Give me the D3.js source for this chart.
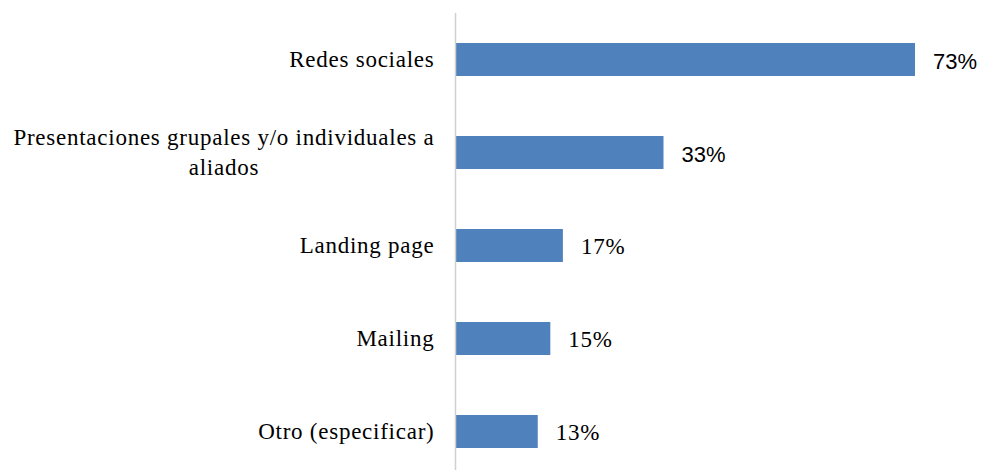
<!DOCTYPE html>
<html>
<head>
<meta charset="utf-8">
<script src="https://cdn.jsdelivr.net/npm/d3@7/dist/d3.min.js"></script>
<style>
  html, body { margin: 0; padding: 0; background: #fff; }
  svg { display: block; }
  text { fill: #000; }
  .serif { font-family: "Liberation Serif", "Times New Roman", serif; font-size: 23px; letter-spacing: 0.75px; }
  .sans { font-family: "Liberation Sans", Arial, sans-serif; font-size: 22px; }
</style>
</head>
<body>
<svg id="chart" width="981" height="470"></svg>
<script>
// Canales de difusión utilizados (% de respuestas)
const categories = [
  "Redes sociales",
  "Presentaciones grupales y/o individuales a aliados",
  "Landing page",
  "Mailing",
  "Otro (especificar)"
];
const values = [73, 33, 17, 15, 13];
const valueLabels = ["73%", "33%", "17%", "15%", "13%"];

const svg = d3.select("#chart");
const height = 470;
const axisX = 455.5;
const labelRight = 434.5;
const labelMaxWidth = 430;

const x = d3.scaleLinear().domain([0, 73]).range([axisX + 0.5, 915]);
const y = d3.scaleBand()
  .domain(categories)
  .range([13, 478])
  .paddingInner(0.645)
  .paddingOuter(0.3225);
const mid = d => y(d) + y.bandwidth() / 2;

// bars
svg.append("g").selectAll("rect")
  .data(categories)
  .join("rect")
  .attr("x", x(0))
  .attr("y", d => y(d))
  .attr("width", (d, i) => x(values[i]) - x(0))
  .attr("height", y.bandwidth())
  .attr("fill", "#4f81bd");

// vertical category axis line
svg.append("line")
  .attr("x1", axisX).attr("x2", axisX)
  .attr("y1", 13).attr("y2", height)
  .attr("stroke", "#d0d0d0")
  .attr("stroke-width", 1.5);

// category labels, wrapped to fit the label column
const labelG = svg.append("g");
const measure = s => {
  const p = labelG.append("text").attr("class", "serif").text(s);
  const w = p.node().getComputedTextLength();
  p.remove();
  return w;
};
categories.forEach(cat => {
  const cy = mid(cat);
  const words = cat.split(" ");
  const lines = [];
  let cur = "";
  words.forEach(w => {
    const test = cur ? cur + " " + w : w;
    if (measure(test) > labelMaxWidth && cur) {
      lines.push(cur);
      cur = w;
    } else {
      cur = test;
    }
  });
  lines.push(cur);

  const t = labelG.append("text").attr("class", "serif");
  const lineH = 30;
  if (lines.length === 1) {
    t.attr("text-anchor", "end")
      .attr("x", labelRight)
      .attr("y", cy + 7)
      .text(lines[0]);
  } else {
    // multi-line labels are centred on the widest line
    const w0 = d3.max(lines, measure);
    const centre = labelRight - w0 / 2;
    t.attr("text-anchor", "middle");
    lines.forEach((ln, k) => {
      t.append("tspan")
        .attr("x", centre)
        .attr("y", cy + 7 + (k - (lines.length - 1) / 2) * lineH)
        .text(ln);
    });
  }
});

// value labels (the two longest bars use a sans face)
svg.append("g").selectAll("text")
  .data(categories)
  .join("text")
  .attr("class", (d, i) => i < 2 ? "sans" : "serif")
  .attr("x", (d, i) => x(values[i]) + 18)
  .attr("y", (d, i) => mid(d) + (i < 2 ? 9 : 8))
  .text((d, i) => valueLabels[i]);
</script>
</body>
</html>
